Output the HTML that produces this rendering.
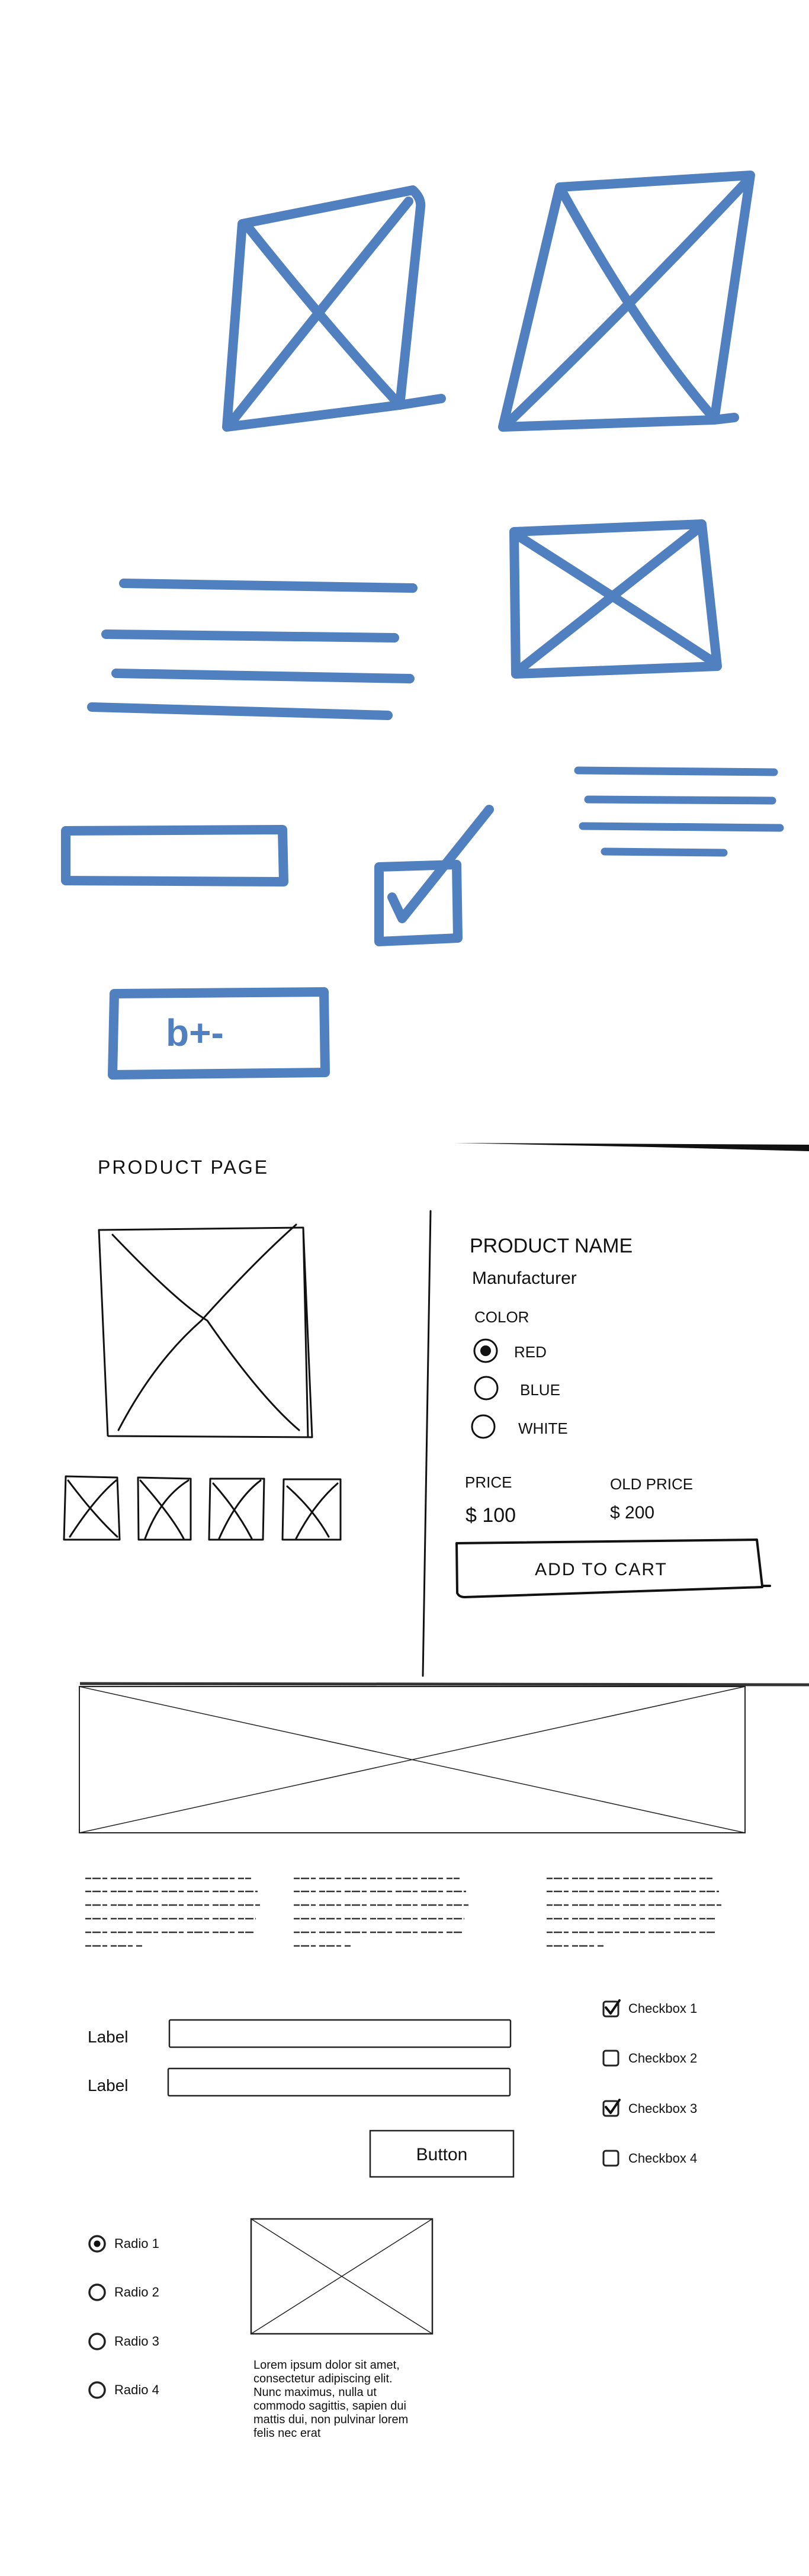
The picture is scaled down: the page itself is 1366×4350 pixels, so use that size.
<!DOCTYPE html>
<html><head><meta charset="utf-8"><title>Wireframe sketches</title>
<style>
html,body{margin:0;padding:0;background:#fff;}
svg{display:block;}
.blue{fill:none;stroke:#5080c0;stroke-width:16;stroke-linecap:round;stroke-linejoin:round;}
.ink{fill:none;stroke:#111;stroke-width:3;stroke-linecap:round;stroke-linejoin:round;}
.thin{fill:none;stroke:#222;stroke-width:2;}
.hand{font-family:"Liberation Sans",sans-serif;fill:#111;}
</style></head>
<body>
<svg width="1366" height="4350" viewBox="0 0 1366 4350">
<!-- Section 1: blue marker sketches -->
<g>
  <g>
    <path class="blue" d="M409,378 L697,321 Q712,335 710,350 L675,684 L383,721 Z M675,684 L745,673"/>
    <path class="blue" d="M420,385 Q560,560 675,684 M393,710 Q560,500 690,340"/>
  </g>
  <g>
    <path class="blue" d="M945,316 L1267,296 L1206,709 L849,721 Z M1206,709 L1240,705"/>
    <path class="blue" d="M950,325 Q1080,560 1200,700 M860,712 Q1060,520 1262,305"/>
  </g>
  <g>
    <path class="blue" d="M868,898 L1185,885 L1211,1125 L871,1138 Z"/>
    <path class="blue" d="M875,905 Q1040,1010 1205,1118 M878,1130 Q1030,1010 1180,892"/>
  </g>
  <g>
    <path class="blue" d="M209,985 L697,993 M179,1071 L666,1077 M196,1137 L692,1146 M155,1194 L655,1208"/>
  </g>
  <g>
    <path class="blue" style="stroke-width:13" d="M976,1301 L1307,1304 M993,1350 L1304,1352 M984,1395 L1317,1398 M1021,1438 L1222,1440"/>
  </g>
  <path class="blue" d="M111,1403 L477,1401 L479,1489 L111,1487 Z"/>
  <g>
    <path class="blue" d="M640,1464 L771,1460 L773,1584 L640,1590 Z"/>
    <path class="blue" d="M662,1515 L679,1551 L826,1367"/>
  </g>
  <g>
    <path class="blue" d="M193,1678 L547,1675 L549,1811 L190,1815 Z"/>
    <text x="280" y="1766" style="font-family:'Liberation Sans',sans-serif;font-weight:bold;font-size:64px;fill:#5080c0;">b+-</text>
  </g>
</g>

<!-- Section 2: product page sketch -->
<g>
  <path d="M767,1930 L1366,1933 L1366,1944 L1100,1937 Z" fill="#111"/>
  <text class="hand" x="165" y="1982" font-size="32" letter-spacing="3">PRODUCT  PAGE</text>
  <path class="ink" d="M727,2045 L714,2830"/>
  <g>
    <path class="ink" d="M167,2077 L512,2073 L527,2427 L183,2425 M167,2077 L182,2424 M512,2073 L520,2427"/>
    <path class="ink" d="M190,2085 Q300,2200 350,2230 Q440,2360 505,2415 M200,2415 Q260,2300 340,2230 Q430,2130 500,2068"/>
  </g>
  <g>
    <path class="ink" d="M111,2493 L198,2495 L202,2600 L108,2600 Z M115,2500 Q160,2560 198,2595 M118,2595 Q160,2530 196,2500"/>
    <path class="ink" d="M233,2495 L322,2497 L322,2600 L234,2600 Z M237,2500 Q290,2560 310,2598 M245,2598 Q270,2530 318,2500"/>
    <path class="ink" d="M355,2497 L446,2497 L444,2600 L353,2600 Z M360,2505 Q400,2550 425,2598 M370,2598 Q400,2530 440,2500"/>
    <path class="ink" d="M479,2498 L575,2498 L575,2600 L477,2600 Z M485,2510 Q530,2550 555,2595 M500,2598 Q530,2540 570,2505"/>
  </g>
  <text class="hand" x="793" y="2115" font-size="34">PRODUCT NAME</text>
  <text class="hand" x="797" y="2168" font-size="30">Manufacturer</text>
  <text class="hand" x="801" y="2233" font-size="26">COLOR</text>
  <g>
    <circle class="ink" cx="820" cy="2281" r="19"/><circle cx="820" cy="2281" r="9" fill="#111"/>
    <text class="hand" x="868" y="2292" font-size="26">RED</text>
  </g>
  <g>
    <circle class="ink" cx="821" cy="2344" r="19"/>
    <text class="hand" x="878" y="2356" font-size="26">BLUE</text>
  </g>
  <g>
    <circle class="ink" cx="816" cy="2409" r="19"/>
    <text class="hand" x="875" y="2421" font-size="26">WHITE</text>
  </g>
  <text class="hand" x="785" y="2512" font-size="26">PRICE</text>
  <text class="hand" x="1030" y="2515" font-size="26">OLD PRICE</text>
  <text class="hand" x="786" y="2570" font-size="34">$ 100</text>
  <text class="hand" x="1030" y="2564" font-size="30">$ 200</text>
  <g>
    <path class="ink" style="stroke-width:4" d="M771,2606 L1278,2600 L1287,2678 L1300,2678 M771,2606 L772,2690 Q775,2697 785,2697 L1287,2680"/>
    <text class="hand" x="1015" y="2660" font-size="30" text-anchor="middle" letter-spacing="2">ADD  TO  CART</text>
  </g>
  <path d="M135,2843 L1366,2845" stroke="#333" stroke-width="5" fill="none"/>
</g>

<!-- Section 3: digital wireframe -->
<g>
  <g>
    <rect x="134" y="2848" width="1124" height="247" class="thin"/>
    <path class="thin" style="stroke-width:1.5" d="M134,2848 L1258,3095 M134,3095 L1258,2848"/>
  </g>
  <g stroke="#333" stroke-width="2.5" stroke-dasharray="10 2 14 3 8 6" fill="none">
    <path d="M144,3172 L424,3172 M144,3194 L435,3194 M144,3217 L442,3217 M144,3240 L432,3240 M144,3263 L430,3263 M144,3286 L240,3286"/>
    <path d="M496,3172 L776,3172 M496,3194 L787,3194 M496,3217 L793,3217 M496,3240 L784,3240 M496,3263 L782,3263 M496,3286 L592,3286"/>
    <path d="M923,3172 L1203,3172 M923,3194 L1214,3194 M923,3217 L1219,3217 M923,3240 L1210,3240 M923,3263 L1208,3263 M923,3286 L1019,3286"/>
  </g>
  <text class="hand" x="148" y="3449" font-size="28">Label</text>
  <rect x="286" y="3411" width="576" height="46" class="thin" style="stroke-width:2.5" rx="2"/>
  <text class="hand" x="148" y="3531" font-size="28">Label</text>
  <rect x="284" y="3493" width="577" height="46" class="thin" style="stroke-width:2.5" rx="2"/>
  <g>
    <rect x="625" y="3598" width="242" height="78" class="thin" style="stroke-width:2.5"/>
    <text class="hand" x="746" y="3648" font-size="30" text-anchor="middle">Button</text>
  </g>
  <g>
    <rect x="1019" y="3380" width="25" height="25" rx="4" class="thin" style="stroke-width:3"/>
    <path class="ink" style="stroke-width:4" d="M1023,3390 L1031,3400 L1046,3378"/>
    <text class="hand" x="1061" y="3399" font-size="22">Checkbox 1</text>
  </g>
  <g>
    <rect x="1019" y="3463" width="25" height="25" rx="4" class="thin" style="stroke-width:3"/>
    <text class="hand" x="1061" y="3483" font-size="22">Checkbox 2</text>
  </g>
  <g>
    <rect x="1019" y="3548" width="25" height="25" rx="4" class="thin" style="stroke-width:3"/>
    <path class="ink" style="stroke-width:4" d="M1023,3558 L1031,3568 L1046,3546"/>
    <text class="hand" x="1061" y="3568" font-size="22">Checkbox 3</text>
  </g>
  <g>
    <rect x="1019" y="3632" width="25" height="25" rx="4" class="thin" style="stroke-width:3"/>
    <text class="hand" x="1061" y="3652" font-size="22">Checkbox 4</text>
  </g>
  <g>
    <circle cx="164" cy="3789" r="13" class="thin" style="stroke-width:3.5"/><circle cx="164" cy="3789" r="5.5" fill="#111"/>
    <text class="hand" x="193" y="3796" font-size="22">Radio 1</text>
  </g>
  <g>
    <circle cx="164" cy="3871" r="13" class="thin" style="stroke-width:3.5"/>
    <text class="hand" x="193" y="3878" font-size="22">Radio 2</text>
  </g>
  <g>
    <circle cx="164" cy="3954" r="13" class="thin" style="stroke-width:3.5"/>
    <text class="hand" x="193" y="3961" font-size="22">Radio 3</text>
  </g>
  <g>
    <circle cx="164" cy="4036" r="13" class="thin" style="stroke-width:3.5"/>
    <text class="hand" x="193" y="4043" font-size="22">Radio 4</text>
  </g>
  <g>
    <rect x="424" y="3747" width="306" height="194" class="thin" style="stroke-width:2.5"/>
    <path class="thin" style="stroke-width:1.5" d="M424,3747 L730,3941 M424,3941 L730,3747"/>
  </g>
  <text class="hand" font-size="20">
    <tspan x="428" y="4000">Lorem ipsum dolor sit amet,</tspan>
    <tspan x="428" y="4023">consectetur adipiscing elit.</tspan>
    <tspan x="428" y="4046">Nunc maximus, nulla ut</tspan>
    <tspan x="428" y="4069">commodo sagittis, sapien dui</tspan>
    <tspan x="428" y="4092">mattis dui, non pulvinar lorem</tspan>
    <tspan x="428" y="4115">felis nec erat</tspan>
  </text>
</g>
</svg>
</body></html>
